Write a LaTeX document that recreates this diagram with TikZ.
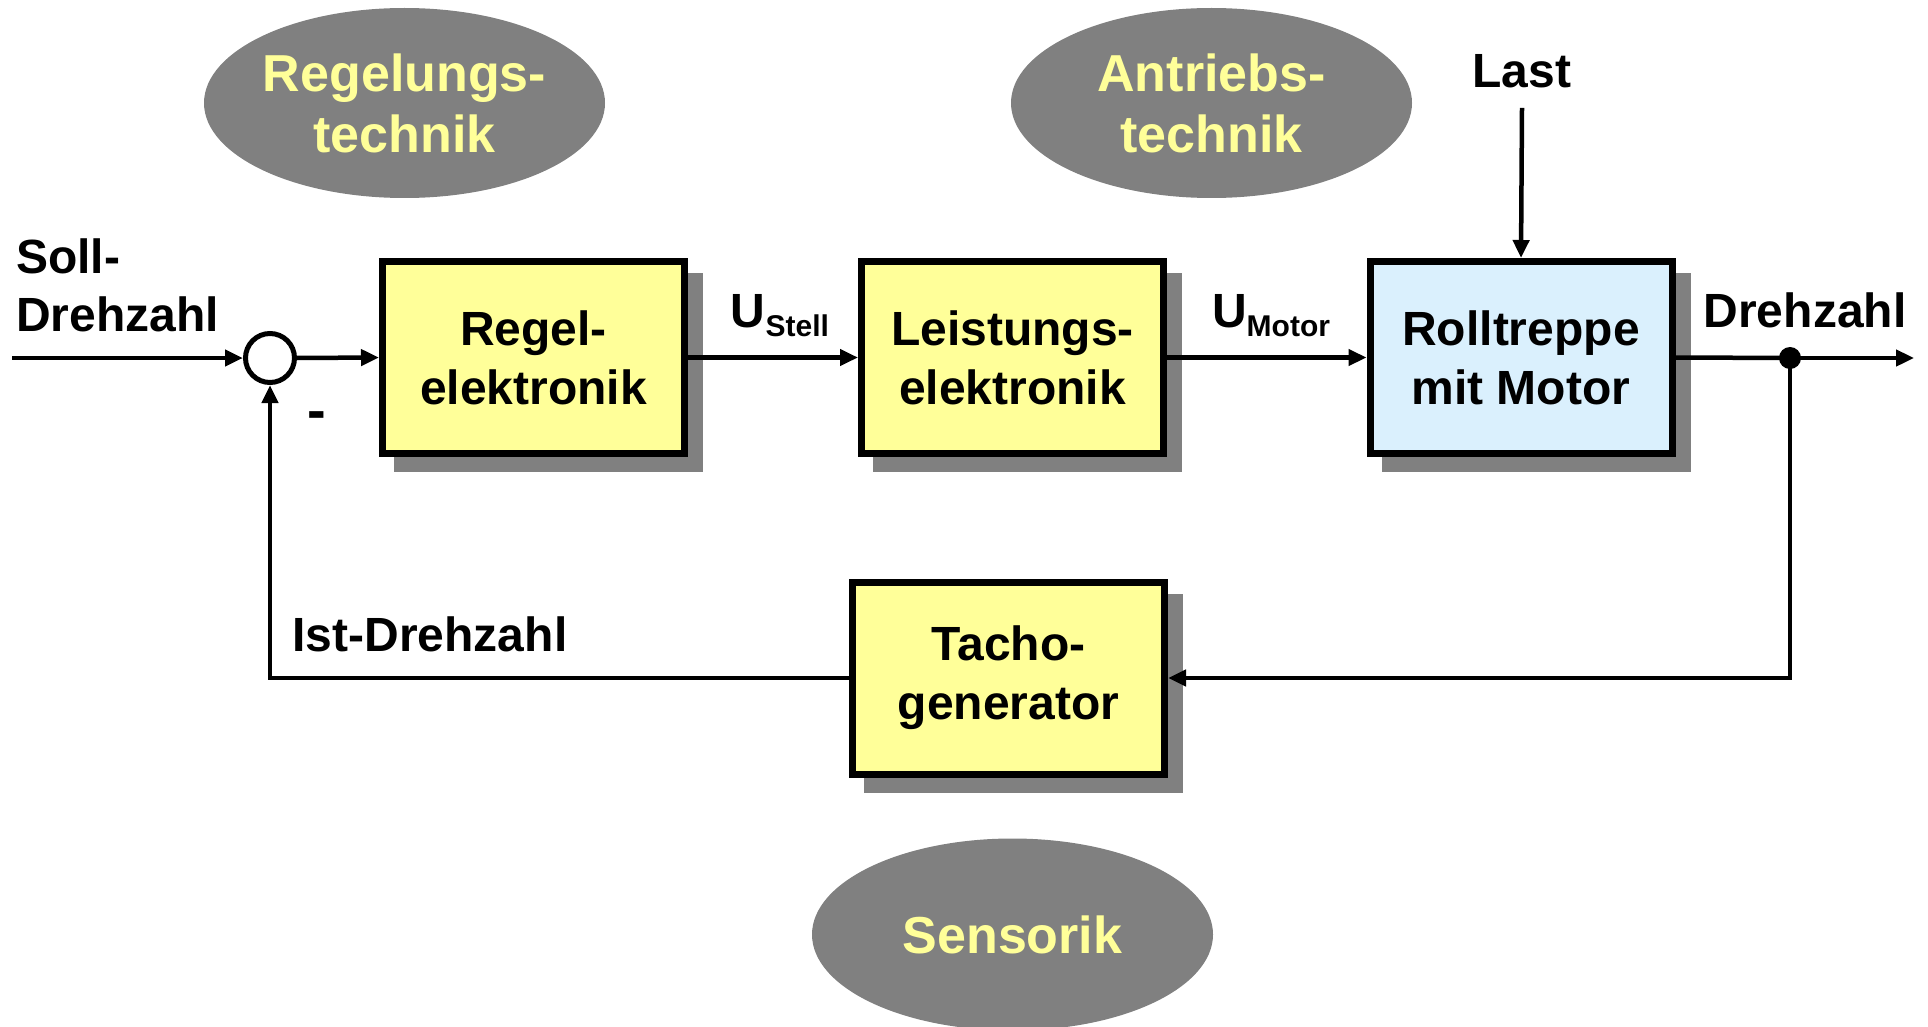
\documentclass[tikz,border=0pt]{standalone}
\usepackage{fontspec}
\setmainfont{Liberation Sans}
\usetikzlibrary{arrows.meta,shapes.geometric,backgrounds}
\definecolor{boxyellow}{HTML}{FFFF99}
\definecolor{boxblue}{HTML}{DAF0FD}
\definecolor{shadegray}{HTML}{808080}
\definecolor{labelyellow}{HTML}{FFFF99}
\tikzset{
 blk/.style={draw=black, line width=7pt, fill=boxyellow, minimum width=302pt, minimum height=192pt, inner sep=0pt, align=center, font=\bfseries\fontsize{48}{59}\selectfont},
 area/.style={ellipse, fill=shadegray, minimum width=401pt, minimum height=190pt, inner sep=0pt, align=center, text=labelyellow, font=\bfseries\fontsize{52}{61}\selectfont},
 lbl/.style={font=\bfseries\fontsize{48}{58}\selectfont, inner sep=0pt, align=left},
 conn/.style={line width=4.5pt, -{Triangle[length=18pt,width=16pt]}},
 wire/.style={line width=4.5pt},
 shade/.style={fill=shadegray},
}
\newcommand{\subtxt}[1]{\raisebox{-9pt}{\fontsize{30}{30}\selectfont #1}}
\begin{document}
\begin{tikzpicture}[x=1pt,y=-1pt]
\useasboundingbox (0,0) rectangle (1928,1027);
% areas
\node[area] (regtech) at (404.5,103) {Regelungs-\\technik};
\node[area] (antr) at (1211.5,103) {Antriebs-\\technik};
\node[area, minimum height=192pt] (sens) at (1012.5,934.5) {Sensorik};
% blocks
\node[blk] (regel) at (533.5,357.5) {Regel-\\elektronik};
\node[blk] (leist) at (1012.5,357.5) {Leistungs-\\elektronik};
\node[blk, fill=boxblue] (roll) at (1521,357.5) {Rolltreppe\\mit Motor};
\node[blk, minimum width=312pt] (tacho) at (1008.5,678) {Tacho-\\generator};
\begin{scope}[on background layer]
\foreach \b in {regel,leist,roll,tacho}
  \fill[shade] ([shift={(15,15)}]\b.north west) rectangle ([shift={(15,15)}]\b.south east);
\end{scope}
% summing point and junction
\node[circle, draw, line width=5pt, minimum size=49pt, inner sep=0pt, fill=white] (sum) at (270,358) {};
\node[circle, fill=black, inner sep=0pt, minimum size=22pt] (dot) at (1790,358) {};
\coordinate (in) at (12,358);
\coordinate (out) at (1914,358);
% labels
\node[lbl, anchor=west] (soll) at (16,285) {Soll-\\Drehzahl};
\node[lbl] (dreh) at (1805,310) {Drehzahl};
\node[lbl] (ist) at (430,634) {Ist-Drehzahl};
\node[lbl, font=\bfseries\fontsize{56}{58}\selectfont] (minus) at (317,421) {-};
\node[lbl] (last) at (1522,71) {Last};
\node[lbl] (ustell) at (780,316) {U\subtxt{Stell}};
\node[lbl] (umotor) at (1271,316) {U\subtxt{Motor}};
% connectors
\draw[conn] (in) -- (sum.west);
\draw[conn] (sum.east) -- (regel.west);
\draw[conn] (regel.east) -- (leist.west);
\draw[conn] (leist.east) -- (roll.west);
\draw[wire] (roll.east) -- (dot.center);
\draw[conn] (dot.center) -- (out);
\draw[conn] (dot.center) |- (tacho.east);
\draw[conn] (tacho.west) -| (sum.south);
\draw[conn] ([shift={(0,20)}]last.south) -- (roll.north);
\end{tikzpicture}
\end{document}
